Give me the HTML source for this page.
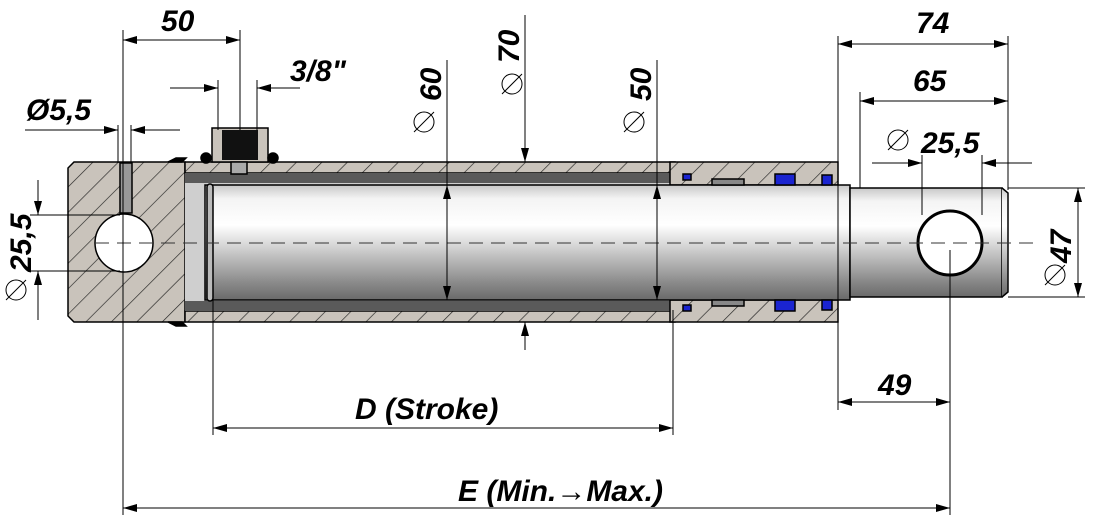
<!DOCTYPE html>
<html><head><style>
body{margin:0;background:#fff;}
svg{display:block}
text{font-family:"Liberation Sans",sans-serif;font-weight:bold;font-style:italic;fill:#000}
</style></head><body>
<svg width="1100" height="517" viewBox="0 0 1100 517">
<defs>
<pattern id="h" width="18" height="18" patternUnits="userSpaceOnUse" patternTransform="rotate(45)">
<rect width="18" height="18" fill="#c9c3bb"/><line x1="0" y1="0" x2="0" y2="18" stroke="#222" stroke-width="1.3"/></pattern>
<linearGradient id="rod" x1="0" y1="0" x2="0" y2="1">
<stop offset="0" stop-color="#c8c8c8"/><stop offset="0.12" stop-color="#f4f4f4"/><stop offset="0.35" stop-color="#fff"/><stop offset="0.55" stop-color="#d0d0d0"/><stop offset="0.85" stop-color="#8a8a8a"/><stop offset="1" stop-color="#6a6a6a"/></linearGradient>
<marker id="a" markerWidth="14" markerHeight="8" refX="14" refY="4" orient="auto" markerUnits="userSpaceOnUse"><path d="M0,0L14,4L0,8z"/></marker>
<marker id="b" markerWidth="14" markerHeight="8" refX="0" refY="4" orient="auto" markerUnits="userSpaceOnUse"><path d="M14,0L0,4L14,8z"/></marker>
</defs>
<g stroke="#000" stroke-width="1.5">
<path d="M74,162H185V322H74L68,316V168Z" fill="url(#h)"/>
<rect x="185" y="162" width="490" height="11" fill="url(#h)"/>
<rect x="185" y="311" width="490" height="11" fill="url(#h)"/>
<rect x="185" y="173" width="490" height="138" fill="#5a5a5a" stroke="none"/>
<rect x="185" y="183" width="490" height="118" fill="#cfcfcf" stroke="none"/>
<rect x="670" y="162" width="168" height="23" fill="url(#h)"/>
<rect x="670" y="300" width="168" height="22" fill="url(#h)"/>
<rect x="205" y="185" width="645" height="115" fill="url(#rod)"/>
<rect x="850" y="188" width="152" height="109" fill="url(#rod)"/>
<path d="M1002,188L1008,193V292L1002,297" fill="url(#rod)"/>
<rect x="207" y="184" width="6" height="117" rx="3" fill="#bbb"/>
<rect x="775" y="174" width="20" height="11" fill="#1a24d0"/>
<rect x="775" y="300" width="20" height="11" fill="#1a24d0"/>
<rect x="822" y="175" width="10" height="10" fill="#1a24d0"/>
<rect x="822" y="300" width="10" height="10" fill="#1a24d0"/>
<rect x="683" y="174" width="8" height="6" fill="#1a24d0"/>
<rect x="683" y="305" width="8" height="6" fill="#1a24d0"/>
<rect x="712" y="179" width="32" height="6" fill="#888"/>
<rect x="712" y="300" width="32" height="6" fill="#888"/>
<circle cx="124" cy="243" r="29" fill="#fff"/>
<rect x="120" y="163" width="12" height="50" fill="#999"/>
<circle cx="950" cy="243" r="32" fill="#fff" stroke-width="3"/>
<rect x="212" y="128" width="56" height="34" fill="#c9c3bb"/>
<rect x="222" y="130" width="36" height="30" fill="#111" stroke="none"/>
<rect x="231" y="162" width="16" height="12" fill="#aaa"/>
<circle cx="206" cy="158" r="5" fill="#000"/><circle cx="273" cy="158" r="5" fill="#000"/>
<path d="M168,162l8,-4h10l-4,4z M168,322l8,4h10l-4,-4z" fill="#000"/>
</g>
<line x1="95" y1="243" x2="1040" y2="243" stroke="#333" stroke-width="1" stroke-dasharray="14,8"/>
<g stroke="#000" stroke-width="1" fill="none">
<line x1="123" y1="30" x2="123" y2="515"/>
<line x1="240" y1="30" x2="240" y2="130"/>
<line x1="218" y1="80" x2="218" y2="130"/><line x1="257" y1="80" x2="257" y2="130"/>
<line x1="118" y1="125" x2="118" y2="163"/><line x1="131" y1="125" x2="131" y2="163"/>
<line x1="838" y1="36" x2="838" y2="410"/><line x1="1008" y1="36" x2="1008" y2="190"/>
<line x1="860" y1="92" x2="860" y2="188"/>
<line x1="922" y1="155" x2="922" y2="215"/><line x1="982" y1="155" x2="982" y2="215"/>
<line x1="950" y1="250" x2="950" y2="515"/>
<line x1="1008" y1="188" x2="1085" y2="188"/><line x1="1008" y1="297" x2="1085" y2="297"/>
<line x1="30" y1="215" x2="120" y2="215"/><line x1="30" y1="271" x2="120" y2="271"/>
<line x1="213" y1="300" x2="213" y2="435"/><line x1="673" y1="310" x2="673" y2="435"/>
<line x1="123" y1="40" x2="240" y2="40" marker-start="url(#b)" marker-end="url(#a)"/>
<line x1="170" y1="88" x2="218" y2="88" marker-end="url(#a)"/><line x1="300" y1="88" x2="257" y2="88" marker-end="url(#a)"/>
<line x1="25" y1="130" x2="118" y2="130" marker-end="url(#a)"/><line x1="180" y1="130" x2="131" y2="130" marker-end="url(#a)"/>
<line x1="838" y1="44" x2="1008" y2="44" marker-start="url(#b)" marker-end="url(#a)"/>
<line x1="860" y1="101" x2="1008" y2="101" marker-start="url(#b)" marker-end="url(#a)"/>
<line x1="872" y1="163" x2="922" y2="163" marker-end="url(#a)"/><line x1="1032" y1="163" x2="982" y2="163" marker-end="url(#a)"/>
<line x1="1078" y1="188" x2="1078" y2="297" marker-start="url(#b)" marker-end="url(#a)"/>
<line x1="38" y1="180" x2="38" y2="215" marker-end="url(#a)"/><line x1="38" y1="320" x2="38" y2="271" marker-end="url(#a)"/>
<line x1="447" y1="60" x2="447" y2="185"/><line x1="447" y1="185" x2="447" y2="300" marker-start="url(#b)" marker-end="url(#a)"/>
<line x1="525" y1="15" x2="525" y2="162" marker-end="url(#a)"/><line x1="525" y1="350" x2="525" y2="322" marker-end="url(#a)"/>
<line x1="657" y1="60" x2="657" y2="185"/><line x1="657" y1="185" x2="657" y2="300" marker-start="url(#b)" marker-end="url(#a)"/>
<line x1="838" y1="402" x2="950" y2="402" marker-start="url(#b)" marker-end="url(#a)"/>
<line x1="213" y1="428" x2="673" y2="428" marker-start="url(#b)" marker-end="url(#a)"/>
<line x1="123" y1="508" x2="950" y2="508" marker-start="url(#b)" marker-end="url(#a)"/>
</g>
<g font-size="30">
<text x="161" y="31">50</text>
<text x="290" y="81">3/8"</text>
<text x="26" y="120">Ø5,5</text>
<text x="916" y="33">74</text>
<text x="913" y="91">65</text>
<text x="921" y="153">25,5</text>
<text x="878" y="395">49</text>
<text x="355" y="419">D (Stroke)</text>
<text x="458" y="501">E (Min.→Max.)</text>
<text transform="translate(31,272) rotate(-90)">25,5</text>
<text transform="translate(1071,263) rotate(-90)">47</text>
<text transform="translate(441,101) rotate(-90)">60</text>
<text transform="translate(519,63) rotate(-90)">70</text>
<text transform="translate(651,101) rotate(-90)">50</text>
</g>
<g fill="none" stroke="#000" stroke-width="1">
<circle cx="16" cy="290" r="10"/><line x1="6" y1="300" x2="26" y2="280"/>
<circle cx="898" cy="140" r="10"/><line x1="888" y1="150" x2="908" y2="130"/>
<circle cx="1055" cy="275" r="10"/><line x1="1045" y1="285" x2="1065" y2="265"/>
<circle cx="424" cy="122" r="10"/><line x1="414" y1="132" x2="434" y2="112"/>
<circle cx="512" cy="84" r="10"/><line x1="502" y1="94" x2="522" y2="74"/>
<circle cx="634" cy="122" r="10"/><line x1="624" y1="132" x2="644" y2="112"/>
</g>
</svg>
</body></html>
